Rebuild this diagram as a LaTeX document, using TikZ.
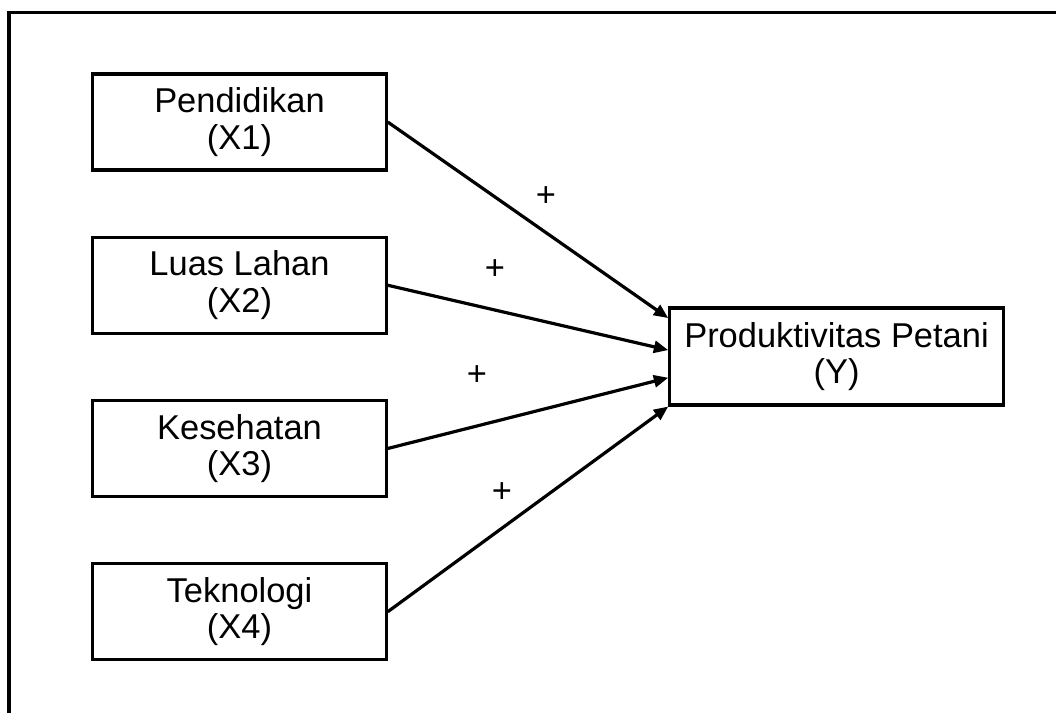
\documentclass[tikz,border=0pt]{standalone}
\usepackage{fontspec}
\setmainfont{Liberation Sans}
\usetikzlibrary{arrows.meta, positioning}

\tikzset{
    varbox/.style={draw, line width=0.08cm, align=center, minimum width=7.33cm, minimum height=2.4cm},
    effect/.style={-{Triangle[length=0.36cm, width=0.3cm]}, line width=0.08cm},
}

\begin{document}
\begin{tikzpicture}[x=0.025cm, y=-0.025cm, node distance=1.6cm,
    font=\fontsize{24.5}{26}\selectfont]
    \useasboundingbox (0,0) rectangle (1056,713);
    \draw[line width=0.09cm] (9,713) -- (9,12.5) -- (1056,12.5);

    \node[varbox] (X1) at (239.5,122) {Pendidikan\\(X1)};
    \node[varbox, below=of X1] (X2) {Luas Lahan\\(X2)};
    \node[varbox, below=of X2] (X3) {Kesehatan\\(X3)};
    \node[varbox, below=of X3] (X4) {Teknologi\\(X4)};

    \node[varbox, minimum width=8.33cm, minimum height=2.42cm] (Y) at (836.5,356.5) {Produktivitas Petani\\(Y)};

    \draw[effect] (X1.east) -- ([yshift=0.96cm]Y.west);
    \draw[effect] (X2.east) -- ([yshift=0.16cm]Y.west);
    \draw[effect] (X3.east) -- ([yshift=-0.53cm]Y.west);
    \draw[effect] (X4.east) -- (Y.south west);

    \node (plus1) at (546,197) {+};
    \node (plus2) at (495,270) {+};
    \node (plus3) at (477,376) {+};
    \node (plus4) at (502,493) {+};
\end{tikzpicture}
\end{document}
